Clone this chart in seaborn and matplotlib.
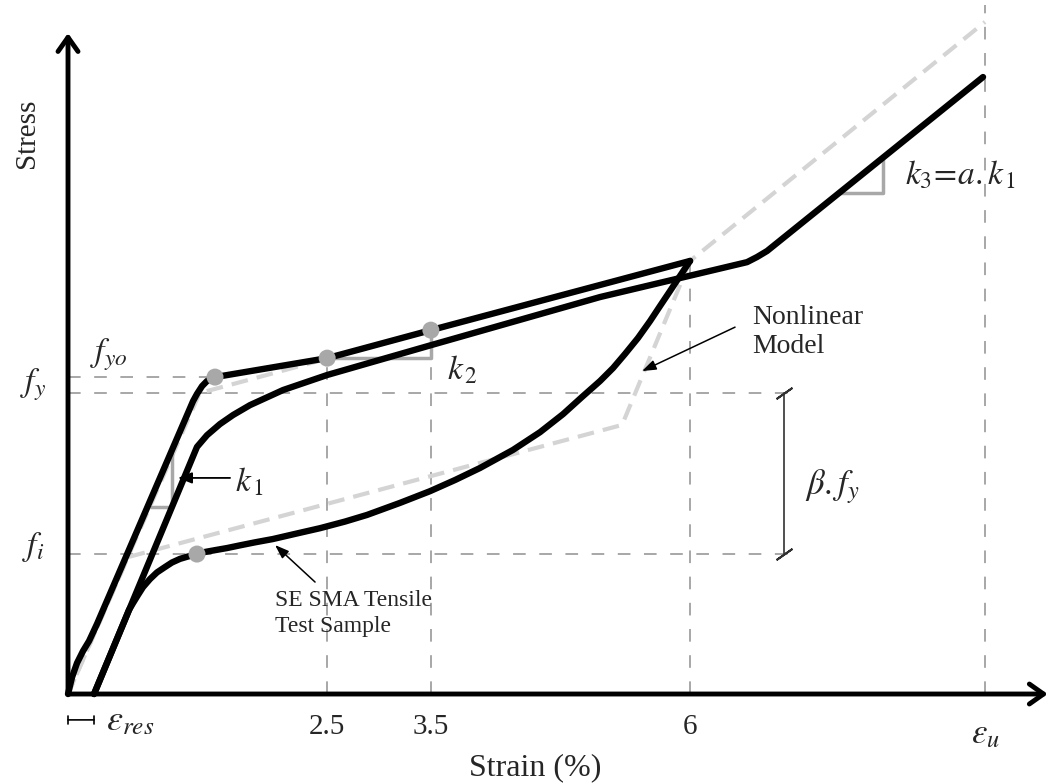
import numpy as np
import pandas as pd
import matplotlib
matplotlib.use("Agg")
import matplotlib.pyplot as plt
import seaborn as sns

# ---------------- data (strain in %, stress normalised so that f_y = 1) -------------
load1_strain = [0.0, 0.039, 0.087, 0.145, 0.203, 0.280, 1.206, 1.244, 1.293, 1.341, 1.418, 2.5, 3.5, 6.0]
load1_stress = [0.0, 0.056, 0.103, 0.143, 0.176, 0.233, 0.973, 0.997, 1.023, 1.040, 1.053, 1.116, 1.209, 1.439]

unload_strain = [6.0, 5.903, 5.807, 5.710, 5.614, 5.498, 5.373, 5.257, 5.132, 4.958, 4.775, 4.553,
                 4.292, 3.974, 3.733, 3.492, 3.202, 2.884, 2.672, 2.431, 2.190, 1.977, 1.804,
                 1.659, 1.534, 1.418, 1.322, 1.244, 1.158, 1.080, 1.003, 0.936, 0.858, 0.791,
                 0.723, 0.675, 0.627, 0.588, 0.251]
unload_stress = [1.439, 1.389, 1.339, 1.289, 1.239, 1.183, 1.130, 1.083, 1.040, 0.987, 0.930, 0.870,
                 0.811, 0.751, 0.711, 0.674, 0.635, 0.595, 0.573, 0.551, 0.532, 0.515, 0.504,
                 0.494, 0.485, 0.478, 0.472, 0.465, 0.457, 0.449, 0.437, 0.422, 0.404, 0.382,
                 0.355, 0.329, 0.302, 0.279, 0.0]

load2_strain = [0.251, 1.244, 1.341, 1.466, 1.592, 1.756, 2.074, 2.5, 3.5, 5.132, 6.550, 6.646, 6.743, 8.826]
load2_stress = [0.0, 0.821, 0.860, 0.897, 0.927, 0.960, 1.010, 1.060, 1.159, 1.319, 1.435, 1.452, 1.472, 2.050]

model_load_strain = [0.0, 1.27, 6.0, 8.845]
model_load_stress = [0.0, 1.0, 1.439, 2.233]
model_unload_strain = [6.0, 5.344, 0.579, 0.0]
model_unload_stress = [1.439, 0.894, 0.455, 0.0]

dot_strain = [1.418, 2.5, 3.5, 1.244]
dot_stress = [1.053, 1.116, 1.209, 0.465]

f_yo, f_y, f_i = 1.053, 1.0, 0.465
eps_res = 0.251
eps_u = 8.845
tick_strain = [2.5, 3.5, 6.0]
tick_labels = ["2.5", "3.5", "6"]
tick_tops = [1.116, 1.209, 1.439]

# ---------------- style ----------------
sns.set_theme(style="white")
plt.rcParams["font.family"] = ["Liberation Serif", "DejaVu Serif"]
plt.rcParams["mathtext.fontset"] = "stix"

fig = plt.figure(figsize=(10.5, 7.84), dpi=100)
ax = fig.add_axes([0, 0, 1, 1])
ax.set_xlim(-0.656, 9.472)
ax.set_ylim(-0.299, 2.306)
ax.axis("off")

guide = dict(color="#a0a0a0", lw=1.3, linestyle=(0, (7.0, 7.5)), zorder=1)
# horizontal guides
ax.plot([0, dot_strain[0]], [f_yo, f_yo], **guide)
ax.plot([0, 7.06], [f_y, f_y], **guide)
ax.plot([0, 7.06], [f_i, f_i], **guide)
# vertical guides
for xs, top in zip(tick_strain, tick_tops):
    ax.plot([xs, xs], [0, top], **guide)
ax.plot([eps_u, eps_u], [0, 2.289], **guide)

# nonlinear model (light grey dashed)
mdl = dict(color="#d4d4d4", lw=3.0, linestyle=(0, (4.0, 2.2)), zorder=2)
ax.plot(model_load_strain, model_load_stress, **mdl)
ax.plot(model_unload_strain, model_unload_stress, **mdl)

# slope triangles
tri = dict(color="#a8a8a8", lw=2.5, zorder=2, solid_capstyle="butt")
ax.plot([0.791, 1.003, 1.003], [0.621, 0.621, 0.801], **tri)
ax.plot([2.5, 3.5, 3.5], [1.116, 1.116, 1.209], **tri)
ax.plot([7.418, 7.861, 7.861], [1.664, 1.664, 1.784], **tri)

# test curves (black)
curve_kw = dict(color="black", linewidth=4.6, sort=False, estimator=None, ax=ax, legend=False,
                solid_joinstyle="round", solid_capstyle="round", zorder=4)
sns.lineplot(x=load1_strain, y=load1_stress, **curve_kw)
sns.lineplot(x=unload_strain, y=unload_stress, **curve_kw)
sns.lineplot(x=load2_strain, y=load2_stress, **curve_kw)

# grey points
sns.scatterplot(x=dot_strain, y=dot_stress, color="#a8a8a8", s=150, edgecolor="none", ax=ax,
                zorder=5, legend=False)

# axes arrows
ax_arrow = dict(arrowstyle="->,head_length=0.85,head_width=0.6", lw=3.5, color="black",
                shrinkA=0, shrinkB=0)
ax.annotate("", xy=(9.45, 0), xytext=(0, 0), arrowprops=ax_arrow, zorder=6)
ax.annotate("", xy=(0, 2.196), xytext=(0, 0), arrowprops=ax_arrow, zorder=6)

# beta dimension
ax.plot([6.907, 6.907], [f_i, f_y], color="#505050", lw=1.4, zorder=3)
ax.plot([6.907, 6.907], [f_i, f_y], linestyle="none", marker=(2, 2, -55), markersize=14,
        markeredgewidth=1.4, color="#303030", zorder=3)
ax.text(7.11, 0.688, r"$\beta.f_y$", fontsize=25, ha="left", va="center")

# eps_res bracket
ax.annotate("", xy=(0, -0.086), xytext=(eps_res, -0.086),
            arrowprops=dict(arrowstyle="|-|,widthA=0.25,widthB=0.25", lw=1.2, color="black",
                            shrinkA=0, shrinkB=0))
ax.text(0.37, -0.093, r"$\varepsilon_{res}$", fontsize=26, ha="left", va="center")

# tick labels
for xs, lab in zip(tick_strain, tick_labels):
    ax.text(xs, -0.110, lab, fontsize=21, ha="center", va="center")
ax.text(eps_u, -0.136, r"$\varepsilon_u$", fontsize=25, ha="center", va="center")
ax.text(4.505, -0.246, "Strain (%)", fontsize=23, ha="center", va="center")
ax.text(-0.395, 1.864, "Stress", fontsize=21, ha="center", va="center", rotation=90)

# stress level labels
ax.text(0.212, 1.126, r"$f_{yo}$", fontsize=24, ha="left", va="center")
ax.text(-0.463, 1.027, r"$f_y$", fontsize=24, ha="left", va="center")
ax.text(-0.444, 0.488, r"$f_i$", fontsize=24, ha="left", va="center")

# stiffness labels
ax.text(1.611, 0.704, r"$k_{\,1}$", fontsize=24, ha="left", va="center")
ax.annotate("", xy=(1.061, 0.718), xytext=(1.563, 0.718),
            arrowprops=dict(arrowstyle="-|>,head_length=0.7,head_width=0.28", lw=1.3,
                            color="black", shrinkA=0, shrinkB=0), zorder=6)
ax.text(3.656, 1.076, r"$k_{\,2}$", fontsize=24, ha="left", va="center")
ax.text(8.074, 1.724, r"$k_3\!=\!a.k_{\,1}$", fontsize=24, ha="left", va="center")

# annotations
ax.text(6.598, 1.204, "Nonlinear\nModel", fontsize=20, ha="left", va="center", linespacing=1.2)
ax.annotate("", xy=(5.537, 1.073), xytext=(6.434, 1.219),
            arrowprops=dict(arrowstyle="-|>,head_length=0.7,head_width=0.25", lw=1.1,
                            color="black", shrinkA=0, shrinkB=0), zorder=6)
ax.text(1.997, 0.267, "SE SMA Tensile\nTest Sample", fontsize=17, ha="left", va="center",
        linespacing=1.35)
ax.annotate("", xy=(1.997, 0.495), xytext=(2.383, 0.372),
            arrowprops=dict(arrowstyle="-|>,head_length=0.7,head_width=0.25", lw=1.1,
                            color="black", shrinkA=0, shrinkB=0), zorder=6)

fig.savefig("out.png", dpi=100, facecolor="white")
